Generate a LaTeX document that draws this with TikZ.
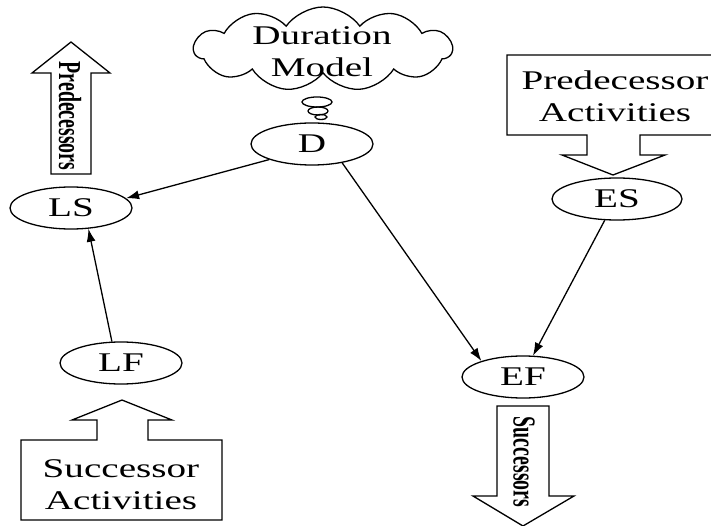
\documentclass[tikz,border=0pt]{standalone}
\usepackage{fontspec}
\setmainfont{Liberation Serif}[FakeStretch=1.45]
\newfontfamily\rotfont{Liberation Serif}[FakeStretch=0.62]
\usetikzlibrary{shapes.geometric,shapes.symbols,arrows.meta}

\begin{document}
\begin{tikzpicture}[
        x=1pt, y=-1pt,
        line width=1.3pt,
        state/.style={
            draw,
            ellipse,
            inner sep=0pt,
            minimum width=122pt,
            minimum height=42pt,
            font=\fontsize{27}{32}\selectfont
        },
        label/.style={
            align=center,
            inner sep=0pt,
            font=\fontsize{27}{32}\selectfont
        },
        rotlabel/.style={
            rotate=-90,
            inner sep=0pt,
            font=\rotfont\bfseries\fontsize{32}{34}\selectfont
        },
        edge/.style={-{Latex[length=13pt,width=9pt]}}
    ]
        \useasboundingbox (0,0) rectangle (711,526);
        \clip (0,0) rectangle (711,526);

        % Duration model cloud and thought bubbles
        \node[draw, cloud, cloud puffs=11, cloud puff arc=110, aspect=3,
              minimum width=258pt, minimum height=84pt, inner sep=0pt] (cloud) at (323,49) {};
        \node[label] (model) at (322,52) {Duration\\Model};
        \draw (317,102) ellipse [x radius=15, y radius=5];
        \draw (318,111) ellipse [x radius=10, y radius=4];
        \draw (321,117) ellipse [x radius=6, y radius=2.5];

        % Activity times
        \node[state] (D) at (312,144) {D};
        \node[state] (LS) at (71,208) {LS};
        \node[state, minimum width=130pt] (ES) at (617,199) {ES};
        \node[state] (LF) at (121,363) {LF};
        \node[state] (EF) at (523,377) {EF};

        % Links
        \draw[edge] (D.200) -- (LS.10);
        \draw[edge] (D.-32) -- (EF.159);
        \draw[edge] (ES.-120) -- (EF.65);
        \draw[edge] (LF.113) -- (LS.-50);

        % Predecessors (up) and successors (down) arrows
        \draw (51,174) -- (51,73) -- (32,73) -- (71,42) -- (110,73) -- (91,73) -- (91,174) -- cycle;
        \node[rotlabel] (pred) at (70,116) {Predecessors};
        \draw (497,406) -- (549,406) -- (549,496) -- (574,496) -- (523,526) -- (473,496) -- (497,496) -- cycle;
        \node[rotlabel] (succ) at (524,462) {Successors};

        % Activity callouts
        \draw (507,55) -- (723,55) -- (723,135) -- (640,135) -- (640,155) -- (665,155) -- (613,175)
            -- (562,155) -- (587,155) -- (587,135) -- (507,135) -- cycle;
        \node[label] (predact) at (615,96) {Predecessor\\Activities};
        \draw (21,520) -- (21,440) -- (97,440) -- (97,420) -- (72,420) -- (122,400) -- (172,420)
            -- (148,420) -- (148,440) -- (222,440) -- (222,520) -- cycle;
        \node[label] (succact) at (121,485) {Successor\\Activities};
    \end{tikzpicture}
\end{document}
